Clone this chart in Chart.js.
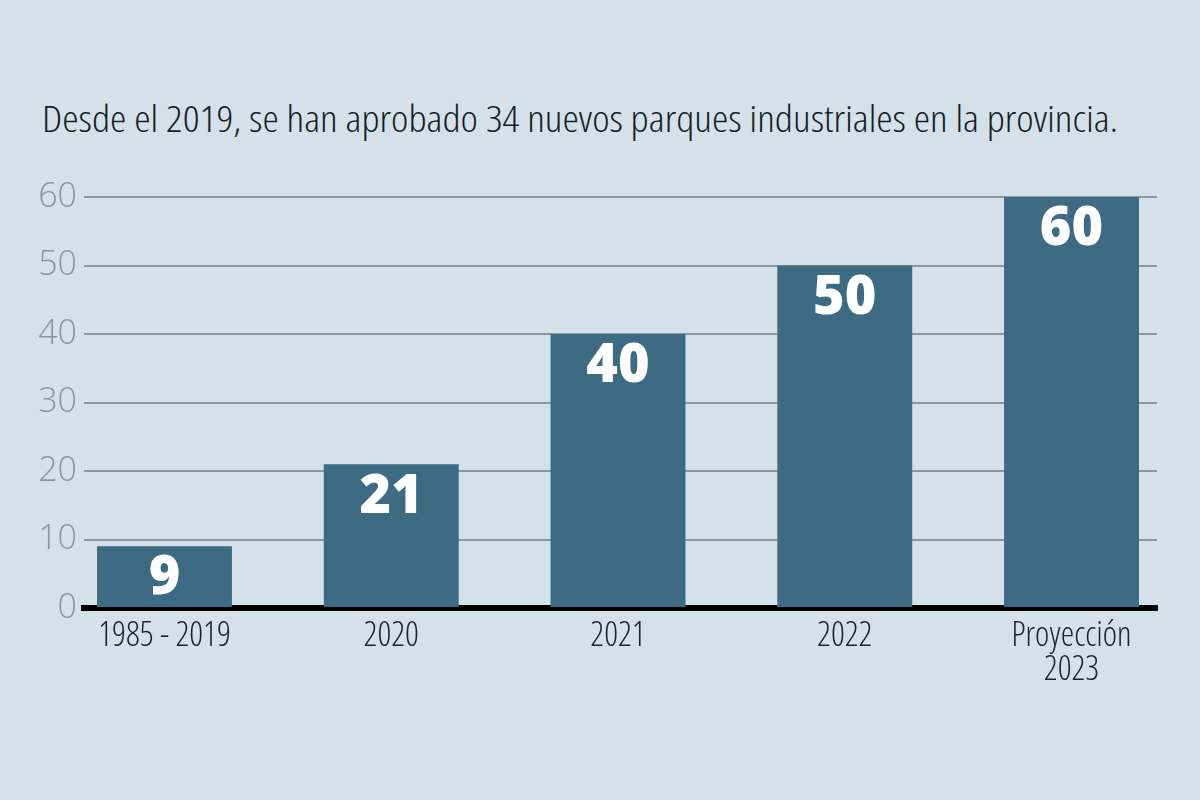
<!DOCTYPE html>
<html>
<head>
<meta charset="utf-8">
<script src="https://cdn.jsdelivr.net/npm/chart.js@4.4.1/dist/chart.umd.min.js"></script>
<style>
  html, body { margin: 0; padding: 0; background: #d5e1e9; }
  #wrap { position: relative; width: 1200px; height: 800px; background: #d5e1e9; overflow: hidden; }
  #title { position: absolute; left: 42px; top: 92px; font-family: "Open Sans", sans-serif; font-weight: 300; font-stretch: 75%; font-size: 37px; color: #161f26; white-space: nowrap; transform-origin: 0 0; }
  canvas { position: absolute; left: 0; top: 0; }
</style>
</head>
<body>
<div id="wrap">
  <div id="title">Desde el 2019, se han aprobado 34 nuevos parques industriales en la provincia.</div>
  <canvas id="c" width="1200" height="800"></canvas>
</div>
<script>
const categories = ['1985 - 2019', '2020', '2021', '2022', 'Proyección\n2023'];
const values = [9, 21, 40, 50, 60];
const yTicks = [0, 10, 20, 30, 40, 50, 60];

const BAR_COLOR = '#3d6b84';
const GRID_COLOR = '#8f979e';
const FONT = '"Open Sans", sans-serif';

// fit title to its measured width in the reference
(function () {
  const t = document.getElementById('title');
  const w = t.getBoundingClientRect().width;
  const target = 1076;
  if (w > 0) t.style.transform = 'scaleX(' + (target / w) + ')';
})();

const barLabels = {
  id: 'barLabels',
  afterDatasetsDraw(chart) {
    const ctx = chart.ctx;
    const meta = chart.getDatasetMeta(0);
    ctx.save();
    ctx.fillStyle = '#ffffff';
    ctx.font = '800 54px "Open Sans", sans-serif';
    ctx.textAlign = 'center';
    ctx.textBaseline = 'middle';
    meta.data.forEach((bar, i) => {
      const y = Math.min(bar.y + 31, (bar.y + bar.base) / 2);
      ctx.fillText(String(values[i]), bar.x, y + 2);
    });
    ctx.restore();
  }
};

new Chart(document.getElementById('c'), {
  type: 'bar',
  data: {
    datasets: [{
      data: values.map((v, i) => ({ x: i, y: v })),
      backgroundColor: BAR_COLOR,
      borderWidth: 0,
      categoryPercentage: 1,
      barPercentage: 0.595
    }]
  },
  options: {
    responsive: false,
    animation: false,
    devicePixelRatio: 1,
    layout: { padding: { left: 0, right: 43, top: 197, bottom: 0 } },
    plugins: { legend: { display: false }, tooltip: { enabled: false }, title: { display: false } },
    scales: {
      x: {
        type: 'linear',
        offset: false,
        min: -0.355,
        max: 4.377,
        z: 1,
        afterFit(scale) { scale.height = 192; },
        afterBuildTicks(scale) { scale.ticks = categories.map((_, i) => ({ value: i })); },
        grid: { display: false, drawTicks: false, offset: false },
        border: { display: true, color: '#000000', width: 6 },
        ticks: {
          autoSkip: false,
          maxRotation: 0,
          minRotation: 0,
          padding: 11,
          color: '#1a242c',
          font: { family: FONT, size: 34, weight: '300 condensed', lineHeight: 1.0 },
          callback: (v) => {
            const s = categories[v];
            return s === undefined ? '' : (s.indexOf('\n') >= 0 ? s.split('\n') : s);
          }
        }
      },
      y: {
        min: 0,
        max: 60,
        afterFit(scale) { scale.width = 84; },
        afterBuildTicks(scale) { scale.ticks = yTicks.map(v => ({ value: v })); },
        grid: { color: GRID_COLOR, lineWidth: 2, drawTicks: false },
        border: { display: false },
        ticks: {
          padding: 7,
          color: '#8d959c',
          font: { family: FONT, size: 34, weight: '300' }
        }
      }
    }
  },
  plugins: [barLabels]
});
</script>
</body>
</html>
